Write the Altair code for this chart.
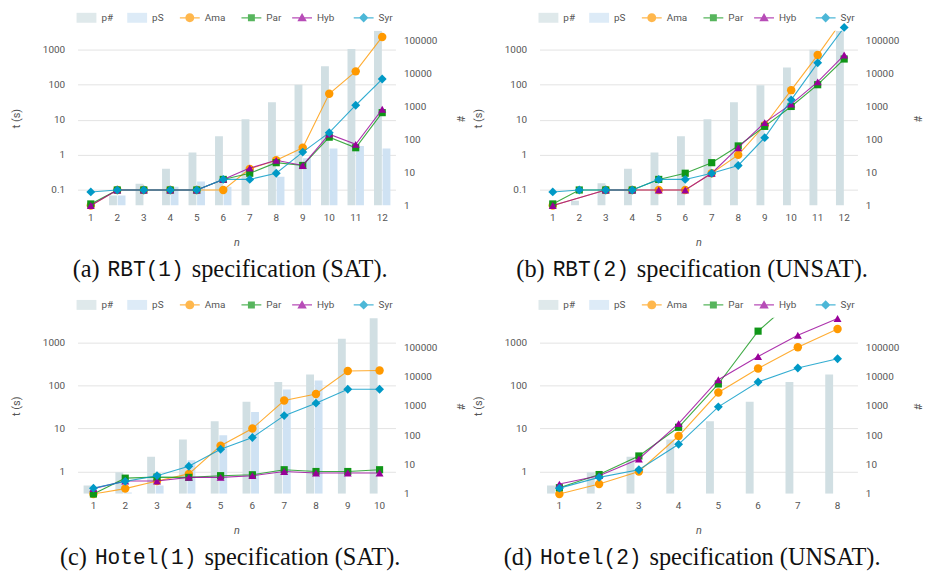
import altair as alt
import pandas as pd

SERIES_BARS = ["p#", "pS"]
SERIES_LINES = ["Ama", "Par", "Hyb", "Syr"]
SERIES_ALL = SERIES_BARS + SERIES_LINES
COLORS = ["#d1dfe3", "#cfe2f3", "#ff9900", "#109618", "#990099", "#0099c6"]

# ---------------- data ----------------
# (a) RBT(1) specification (SAT)
a_n = [1, 2, 3, 4, 5, 6, 7, 8, 9, 10, 11, 12]
a_pcount = [1, 2, 4.6, 13, 40, 125, 410, 1350, 4500, 16500, 55000, 195000]
a_pS = [1, 2, 1, 3.7, 5.3, 3.7, 1, 7.5, 27, 53, 64, 53]
a_ama = [0.036, 0.1, 0.1, 0.1, 0.1, 0.1, 0.4, 0.7, 1.6, 55, 240, 2300]
a_par = [0.04, 0.1, 0.1, 0.1, 0.1, 0.2, 0.3, 0.6, 0.5, 3.2, 1.6, 16]
a_hyb = [0.036, 0.1, 0.1, 0.1, 0.1, 0.2, 0.42, 0.7, 0.5, 3.9, 2.0, 20]
a_syr = [0.088, 0.1, 0.1, 0.1, 0.1, 0.2, 0.2, 0.3, 1.2, 4.3, 26, 145]

# (b) RBT(2) specification (UNSAT)
b_n = [1, 2, 3, 4, 5, 6, 7, 8, 9, 10, 11, 12]
b_pcount = [1, 1.4, 4.7, 13, 40, 125, 410, 1350, 4400, 15000, 52000, 195000]
b_pS = [1, 1, 1, 1, 1, 1, 1, 1, 1, 1, 1, 1]
b_ama = [0.036, None, 0.1, 0.1, 0.1, 0.1, 0.3, 1.0, 7, 70, 700, 8000]
b_par = [0.04, 0.1, 0.1, 0.1, 0.2, 0.3, 0.6, 1.8, 6.5, 24, 100, 540]
b_hyb = [0.036, None, 0.1, 0.1, 0.1, 0.1, 0.3, 1.6, 8.3, 28, 120, 700]
b_syr = [0.088, 0.1, 0.1, 0.1, 0.2, 0.2, 0.3, 0.5, 3.1, 37, 420, 4300]

# (c) Hotel(1) specification (SAT)
c_n = [1, 2, 3, 4, 5, 6, 7, 8, 9, 10]
c_pcount = [1.9, 5.4, 18.5, 72, 300, 1400, 6600, 12000, 200000, 1000000]
c_pS = [1, 1.1, 1.9, 14, 100, 620, 3700, 7400, None, None]
c_ama = [0.3, 0.4, 0.6, 0.88, 4.0, 10, 45, 64, 218, 225]
c_par = [0.3, 0.7, 0.74, 0.73, 0.8, 0.84, 1.1, 1.0, 1.0, 1.1]
c_hyb = [0.4, 0.6, 0.6, 0.73, 0.73, 0.8, 1.0, 0.92, 0.92, 0.92]
c_syr = [0.41, 0.59, 0.8, 1.33, 3.3, 6.2, 20, 39, 82, 82]

# (d) Hotel(2) specification (UNSAT)
d_n = [1, 2, 3, 4, 5, 6, 7, 8]
d_pcount = [1.9, 5.4, 18.5, 72, 300, 1400, 6600, 12000]
d_pS = [1, 1, 1, 1, 1, 1, 1, 1]
d_ama = [0.3, 0.51, 1.0, 6.7, 69, 250, 780, 2070]
d_par = [0.42, 0.85, 2.3, 10.7, 109, 1850, 12000, None]
d_hyb = [0.51, 0.8, 1.96, 13, 137, 474, 1480, 3650]
d_syr = [0.41, 0.73, 1.1, 4.3, 32, 121, 256, 420]

# axis domains / ticks
AB_T_DOMAIN = [0.036, 3460]
AB_T_TICKS = [0.1, 1, 10, 100, 1000]
AB_C_DOMAIN = [1, 196000]
CD_T_DOMAIN = [0.305, 3780]
CD_T_TICKS = [1, 10, 100, 1000]
CD_C_DOMAIN = [1, 1040000]
C_TICKS = [1, 10, 100, 1000, 10000, 100000]

CAP_PREFIX = ["(a)", "(b)", "(c)", "(d)"]
CAP_CODE = ["RBT(1)", "RBT(2)", "Hotel(1)", "Hotel(2)"]
CAP_SUFFIX = ["specification (SAT).", "specification (UNSAT).",
              "specification (SAT).", "specification (UNSAT)."]

# ---------------- styling ----------------
W = 320
LABEL_FONT = "Roboto"
LABEL_SIZE = 10
LABEL_COLOR = "#555555"
GRID_COLOR = "#e3e3e3"
SERIF = "Liberation Serif"
SERIF_SIZE = 24.5
MONO = "Liberation Mono"
MONO_SIZE = 21.3
CAP_SPACE = 0.333 * 24

POINT_STYLE = {"Ama": ("circle", 72), "Par": ("square", 52),
               "Hyb": ("triangle-up", 64), "Syr": ("diamond", 80)}

# legend symbols (unit = 5 px, symbol spans x in [-1, 3]) and legend left edges
SEG = "M-1,-0.12H0.5V0.12H-1Z M1.5,-0.12H3V0.12H1.5Z "
LEGEND_SYMBOL = {
    "p#": "M-1,-1H3V1H-1Z",
    "pS": "M-1,-1H3V1H-1Z",
    "Ama": SEG + "M1.9,0A0.9,0.9,0,1,1,0.1,0A0.9,0.9,0,1,1,1.9,0Z",
    "Par": SEG + "M0.3,-0.7H1.7V0.7H0.3Z",
    "Hyb": SEG + "M1,-0.95L1.95,0.7L0.05,0.7Z",
    "Syr": SEG + "M1,-0.95L1.95,0L1,0.95L0.05,0Z",
}
LEGEND_X = {"p#": -2, "pS": 49, "Ama": 102, "Par": 164, "Hyb": 215, "Syr": 277}

TIMES = {' ': 250, '(': 333, ')': 333, '.': 250, 'a': 444, 'b': 500, 'c': 444,
         'd': 500, 'e': 444, 'f': 333, 'i': 278, 'n': 500, 'o': 500, 'p': 500,
         's': 389, 't': 278, 'A': 722, 'N': 722, 'S': 556, 'T': 611, 'U': 722}


def serif_width(s):
    return sum(TIMES.get(ch, 500) for ch in s) / 1000.0 * SERIF_SIZE


def make_panel(idx, n, pc, ps, vals, tdom, tticks, cdom, height, cap_y, right_title_pad, anchor):
    k = len(n)
    bdf = pd.DataFrame({"n": n * 2, "series": ["p#"] * k + ["pS"] * k,
                        "v": pd.to_numeric(pd.Series(pc + ps), errors="coerce")}).dropna()
    ldf = pd.DataFrame({"n": n * 4,
                        "series": sum([[s] * k for s in SERIES_LINES], []),
                        "t": pd.to_numeric(pd.Series(sum(vals, [])), errors="coerce")}).dropna()

    xenc = alt.X("n:O",
                 scale=alt.Scale(paddingInner=0.38, paddingOuter=0.19),
                 axis=alt.Axis(title="n", labelAngle=0, ticks=False, domain=False,
                               grid=False, labelPadding=7, titlePadding=14,
                               titleFontStyle="italic"))
    color = alt.Color("series:N", scale=alt.Scale(domain=SERIES_ALL, range=COLORS),
                      legend=None)
    yt = alt.Y("t:Q", scale=alt.Scale(type="log", domain=tdom),
               axis=alt.Axis(orient="left", values=tticks, format="~g", title="t (s)",
                             grid=True, gridColor=GRID_COLOR, ticks=False, domain=False,
                             labelPadding=13, titlePadding=21))
    yc = alt.Y("v:Q", scale=alt.Scale(type="log", domain=cdom),
               axis=alt.Axis(orient="right", values=C_TICKS, format="d", title="#",
                             grid=False, ticks=False, domain=False,
                             labelPadding=8, titlePadding=right_title_pad))

    bars = alt.Chart(bdf).mark_bar(clip=True).encode(
        x=xenc,
        xOffset=alt.XOffset("series:N", scale=alt.Scale(domain=SERIES_BARS, paddingInner=0.08)),
        y=yc,
        y2=alt.datum(1),
        color=color,
    )

    layers = []
    for s in SERIES_LINES:
        d = ldf[ldf["series"] == s]
        layers.append(alt.Chart(d).mark_line(strokeWidth=1.1, strokeOpacity=0.8, clip=True).encode(
            x=xenc, y=yt, color=color))
        shp, size = POINT_STYLE[s]
        dp = d[d["t"] <= tdom[1] * 1.5]
        layers.append(alt.Chart(dp).mark_point(filled=True, shape=shp, size=size, opacity=1).encode(
            x=xenc, y=yt, color=color))

    # one legend per series (each carried by a clipped-away point)
    for s, col in zip(SERIES_ALL, COLORS):
        leg_df = pd.DataFrame({"series": [s], "n": [n[0]], "t": [1e8]})
        lg = alt.Legend(title=None, orient="none", legendX=LEGEND_X[s], legendY=-19,
                        symbolType=LEGEND_SYMBOL[s], symbolSize=100,
                        labelFont=LABEL_FONT, labelFontSize=LABEL_SIZE, labelColor=LABEL_COLOR,
                        labelOffset=14)
        layers.append(alt.Chart(leg_df).mark_point(filled=True, clip=True).encode(
            x=xenc, y=yt,
            fill=alt.Fill("series:N", scale=alt.Scale(domain=[s], range=[col]), legend=lg),
        ))

    # caption (three runs of text: serif / mono / serif)
    pre, code, suf = CAP_PREFIX[idx], CAP_CODE[idx], CAP_SUFFIX[idx]
    code_w = len(code) * 0.6 * MONO_SIZE
    total = serif_width(pre) + CAP_SPACE + code_w + CAP_SPACE + serif_width(suf)
    x0 = 155 - total / 2
    x1 = x0 + serif_width(pre) + CAP_SPACE
    x2 = x1 + code_w + CAP_SPACE
    cap_df = pd.DataFrame({"k": [0]})
    for txt, xx, font, fs in [(pre, x0, SERIF, SERIF_SIZE), (code, x1, MONO, MONO_SIZE),
                              (suf, x2, SERIF, SERIF_SIZE)]:
        layers.append(alt.Chart(cap_df).mark_text(align="left", baseline="middle", font=font,
                                                  fontSize=fs, color="#111111").encode(
            x=alt.value(xx), y=alt.value(cap_y), text=alt.value(txt)))

    if anchor:
        # invisible anchor fixing the page origin (top-left corner of the figure)
        layers.append(alt.Chart(cap_df).mark_point(opacity=0, size=1).encode(
            x=alt.value(-69), y=alt.value(-20)))

    inner = alt.layer(*layers).resolve_scale(fill="independent").resolve_legend(fill="independent")
    return alt.layer(bars, inner).resolve_scale(y="independent").properties(width=W, height=height)


A = make_panel(0, a_n, a_pcount, a_pS, [a_ama, a_par, a_hyb, a_syr],
               AB_T_DOMAIN, AB_T_TICKS, AB_C_DOMAIN, 176, 241, 18, True)
B = make_panel(1, b_n, b_pcount, b_pS, [b_ama, b_par, b_hyb, b_syr],
               AB_T_DOMAIN, AB_T_TICKS, AB_C_DOMAIN, 176, 241, 13, False)
C = make_panel(2, c_n, c_pcount, c_pS, [c_ama, c_par, c_hyb, c_syr],
               CD_T_DOMAIN, CD_T_TICKS, CD_C_DOMAIN, 177, 242, 18, False)
D = make_panel(3, d_n, d_pcount, d_pS, [d_ama, d_par, d_hyb, d_syr],
               CD_T_DOMAIN, CD_T_TICKS, CD_C_DOMAIN, 177, 242, 13, False)

chart = alt.concat(A, B, C, D, columns=2, spacing={"row": 113, "column": 145},
                   bounds="flush").properties(
    padding=0,
    background="white",
).configure_view(stroke=None).configure_axis(
    labelFont=LABEL_FONT, labelFontSize=LABEL_SIZE, labelColor=LABEL_COLOR,
    titleFont=LABEL_FONT, titleFontSize=LABEL_SIZE + 1, titleColor=LABEL_COLOR,
    titleFontWeight="normal",
)

chart.save("out.html", embed_options={"renderer": "svg", "actions": False})
